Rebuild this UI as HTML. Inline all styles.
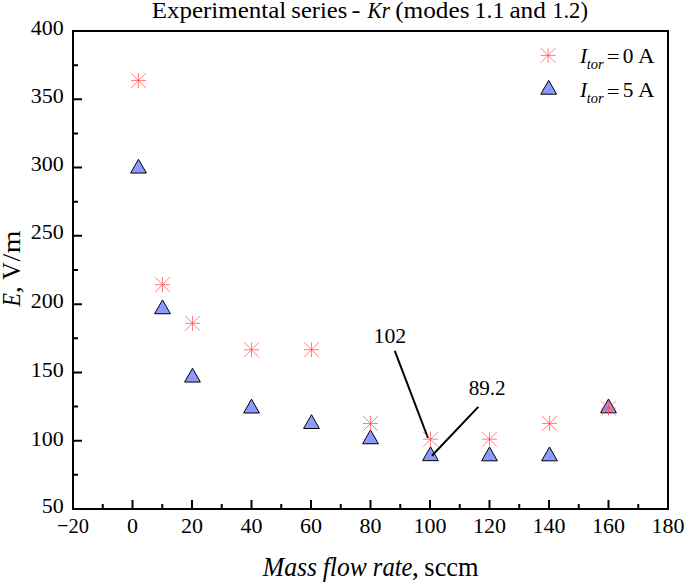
<!DOCTYPE html>
<html><head><meta charset="utf-8"><style>
html,body{margin:0;padding:0;background:#fff;width:685px;height:585px;overflow:hidden;}
svg{display:block;font-family:"Liberation Serif", serif;}
</style></head><body>
<svg width="685" height="585" viewBox="0 0 685 585">
<rect x="73" y="31" width="595" height="478" fill="none" stroke="#000" stroke-width="2"/>
<path d="M102.75 509V504M132.50 509V500M162.25 509V504M192.00 509V500M221.75 509V504M251.50 509V500M281.25 509V504M311.00 509V500M340.75 509V504M370.50 509V500M400.25 509V504M430.00 509V500M459.75 509V504M489.50 509V500M519.25 509V504M549.00 509V500M578.75 509V504M608.50 509V500M638.25 509V504M73 474.86H78M73 440.71H82M73 406.57H78M73 372.43H82M73 338.29H78M73 304.14H82M73 270.00H78M73 235.86H82M73 201.71H78M73 167.57H82M73 133.43H78M73 99.29H82M73 65.14H78" stroke="#000" stroke-width="2" fill="none"/>
<text transform="translate(73.00 533.4) scale(0.93 1)" text-anchor="middle" font-size="22">−20</text>
<text transform="translate(132.50 533.4) scale(1.0 1)" text-anchor="middle" font-size="22">0</text>
<text transform="translate(192.00 533.4) scale(1.0 1)" text-anchor="middle" font-size="22">20</text>
<text transform="translate(251.50 533.4) scale(1.0 1)" text-anchor="middle" font-size="22">40</text>
<text transform="translate(311.00 533.4) scale(1.0 1)" text-anchor="middle" font-size="22">60</text>
<text transform="translate(370.50 533.4) scale(1.0 1)" text-anchor="middle" font-size="22">80</text>
<text transform="translate(430.00 533.4) scale(1.0 1)" text-anchor="middle" font-size="22">100</text>
<text transform="translate(489.50 533.4) scale(1.0 1)" text-anchor="middle" font-size="22">120</text>
<text transform="translate(549.00 533.4) scale(1.0 1)" text-anchor="middle" font-size="22">140</text>
<text transform="translate(608.50 533.4) scale(1.0 1)" text-anchor="middle" font-size="22">160</text>
<text transform="translate(668.00 533.4) scale(1.0 1)" text-anchor="middle" font-size="22">180</text>
<text x="63.8" y="513.30" text-anchor="end" font-size="22">50</text>
<text x="63.8" y="445.70" text-anchor="end" font-size="22">100</text>
<text x="63.8" y="377.00" text-anchor="end" font-size="22">150</text>
<text x="63.8" y="308.30" text-anchor="end" font-size="22">200</text>
<text x="63.8" y="239.20" text-anchor="end" font-size="22">250</text>
<text x="63.8" y="171.40" text-anchor="end" font-size="22">300</text>
<text x="63.8" y="103.30" text-anchor="end" font-size="22">350</text>
<text x="63.8" y="34.60" text-anchor="end" font-size="22">400</text>
<text transform="translate(151.65 17.80) scale(1.0630 1)" font-size="23.5" >Experimental</text>
<text transform="translate(291.32 17.80) scale(1.0464 1)" font-size="23.5" >series</text>
<text transform="translate(351.42 17.80) scale(1.1457 1)" font-size="23.5" >-</text>
<text transform="translate(367.61 17.80) scale(0.9067 1)" font-size="23.5" font-style="italic">Kr</text>
<text transform="translate(395.19 17.80) scale(1.0749 1)" font-size="23.5" >(modes</text>
<text transform="translate(474.54 17.80) scale(1.0213 1)" font-size="23.5" >1.1</text>
<text transform="translate(509.39 17.80) scale(1.0745 1)" font-size="23.5" >and</text>
<text transform="translate(552.16 17.80) scale(0.9626 1)" font-size="23.5" >1.2)</text>
<text transform="translate(262.86 576.00) scale(0.9769 1)" font-size="26.3" font-style="italic">Mass</text>
<text transform="translate(322.74 576.00) scale(0.9752 1)" font-size="26.3" font-style="italic">flow</text>
<text transform="translate(372.82 576.00) scale(0.9346 1)" font-size="26.3" font-style="italic">rate</text>
<text transform="translate(411.85 576.00) scale(1.0900 1)" font-size="26.3" >,</text>
<text transform="translate(424.34 576.00) scale(1.0057 1)" font-size="26.3" >sccm</text>
<text transform="translate(20.00 306.48) rotate(-90) scale(0.8429 1)" font-size="26.1" font-style="italic">E</text>
<text transform="translate(20.00 293.15) rotate(-90) scale(1.0983 1)" font-size="26.1" >,</text>
<text transform="translate(20.00 279.64) rotate(-90) scale(0.9360 1)" font-size="26.1" >V</text>
<text transform="translate(20.00 261.50) rotate(-90) scale(1.0673 1)" font-size="26.1" >/</text>
<text transform="translate(20.00 253.28) rotate(-90) scale(1.1184 1)" font-size="26.1" >m</text>
<path d="M138.50 159.25L146.40 173.05H130.60Z" fill="#8c9aff" stroke="#000" stroke-width="1" stroke-linejoin="round"/>
<path d="M162.50 299.95L170.40 313.75H154.60Z" fill="#8c9aff" stroke="#000" stroke-width="1" stroke-linejoin="round"/>
<path d="M192.50 368.25L200.40 382.05H184.60Z" fill="#8c9aff" stroke="#000" stroke-width="1" stroke-linejoin="round"/>
<path d="M251.50 399.20L259.40 413.00H243.60Z" fill="#8c9aff" stroke="#000" stroke-width="1" stroke-linejoin="round"/>
<path d="M311.50 414.70L319.40 428.50H303.60Z" fill="#8c9aff" stroke="#000" stroke-width="1" stroke-linejoin="round"/>
<path d="M370.50 429.95L378.40 443.75H362.60Z" fill="#8c9aff" stroke="#000" stroke-width="1" stroke-linejoin="round"/>
<path d="M430.50 446.85L438.40 460.65H422.60Z" fill="#8c9aff" stroke="#000" stroke-width="1" stroke-linejoin="round"/>
<path d="M489.50 447.00L497.40 460.80H481.60Z" fill="#8c9aff" stroke="#000" stroke-width="1" stroke-linejoin="round"/>
<path d="M549.50 447.00L557.40 460.80H541.60Z" fill="#8c9aff" stroke="#000" stroke-width="1" stroke-linejoin="round"/>
<path d="M608.50 399.00L616.40 412.80H600.60Z" fill="#8c9aff" stroke="#000" stroke-width="1" stroke-linejoin="round"/>
<path d="M394.8 350.9L428.0 438.0M478.3 406.9L431.9 455.8" stroke="#000" stroke-width="2" fill="none"/>
<g stroke="#ff4848" stroke-width="1" fill="none" stroke-opacity="0.7"><path d="M131.00 80.60H146.00"/><path d="M138.50 73.10V88.10"/><path d="M131.00 73.10L146.00 88.10"/><path d="M131.00 88.10L146.00 73.10"/></g>
<g stroke="#ff4848" stroke-width="1" fill="none" stroke-opacity="0.7"><path d="M155.00 284.70H170.00"/><path d="M162.50 277.20V292.20"/><path d="M155.00 277.20L170.00 292.20"/><path d="M155.00 292.20L170.00 277.20"/></g>
<g stroke="#ff4848" stroke-width="1" fill="none" stroke-opacity="0.7"><path d="M185.00 323.30H200.00"/><path d="M192.50 315.80V330.80"/><path d="M185.00 315.80L200.00 330.80"/><path d="M185.00 330.80L200.00 315.80"/></g>
<g stroke="#ff4848" stroke-width="1" fill="none" stroke-opacity="0.7"><path d="M244.00 349.80H259.00"/><path d="M251.50 342.30V357.30"/><path d="M244.00 342.30L259.00 357.30"/><path d="M244.00 357.30L259.00 342.30"/></g>
<g stroke="#ff4848" stroke-width="1" fill="none" stroke-opacity="0.7"><path d="M304.00 349.70H319.00"/><path d="M311.50 342.20V357.20"/><path d="M304.00 342.20L319.00 357.20"/><path d="M304.00 357.20L319.00 342.20"/></g>
<g stroke="#ff4848" stroke-width="1" fill="none" stroke-opacity="0.7"><path d="M363.00 423.50H378.00"/><path d="M370.50 416.00V431.00"/><path d="M363.00 416.00L378.00 431.00"/><path d="M363.00 431.00L378.00 416.00"/></g>
<g stroke="#ff4848" stroke-width="1" fill="none" stroke-opacity="0.7"><path d="M423.00 439.20H438.00"/><path d="M430.50 431.70V446.70"/><path d="M423.00 431.70L438.00 446.70"/><path d="M423.00 446.70L438.00 431.70"/></g>
<g stroke="#ff4848" stroke-width="1" fill="none" stroke-opacity="0.7"><path d="M482.00 439.20H497.00"/><path d="M489.50 431.70V446.70"/><path d="M482.00 431.70L497.00 446.70"/><path d="M482.00 446.70L497.00 431.70"/></g>
<g stroke="#ff4848" stroke-width="1" fill="none" stroke-opacity="0.7"><path d="M542.00 423.40H557.00"/><path d="M549.50 415.90V430.90"/><path d="M542.00 415.90L557.00 430.90"/><path d="M542.00 430.90L557.00 415.90"/></g>
<g stroke="#ff4848" stroke-width="1" fill="none" stroke-opacity="0.7"><path d="M601.00 408.20H616.00"/><path d="M608.50 400.70V415.70"/><path d="M601.00 400.70L616.00 415.70"/><path d="M601.00 415.70L616.00 400.70"/></g>
<text transform="translate(373.53 342.80) scale(0.9933 1)" font-size="22">102</text>
<text transform="translate(468.65 395.20) scale(0.9614 1)" font-size="22">89.2</text>
<g stroke="#ff4848" stroke-width="1" fill="none" stroke-opacity="0.7"><path d="M540.60 55.40H555.60"/><path d="M548.10 47.90V62.90"/><path d="M540.60 47.90L555.60 62.90"/><path d="M540.60 62.90L555.60 47.90"/></g>
<path d="M548.70 80.40L556.60 94.20H540.80Z" fill="#8c9aff" stroke="#000" stroke-width="1" stroke-linejoin="round"/>
<text x="580" y="62.80" font-size="21.4" font-style="italic">I</text>
<text transform="translate(586.82 68.70) scale(0.9363 1)" font-size="15.5" font-style="italic">tor</text>
<text transform="translate(606.76 63.30) scale(1.07 0.9)" font-size="21.4">=</text>
<text x="622.74" y="62.80" font-size="21.4">0</text>
<text transform="translate(638.09 62.80) scale(1.07 1)" font-size="21.4">A</text>
<text x="580" y="97.00" font-size="21.4" font-style="italic">I</text>
<text transform="translate(586.82 102.90) scale(0.9363 1)" font-size="15.5" font-style="italic">tor</text>
<text transform="translate(606.76 97.50) scale(1.07 0.9)" font-size="21.4">=</text>
<text x="622.74" y="97.00" font-size="21.4">5</text>
<text transform="translate(638.09 97.00) scale(1.07 1)" font-size="21.4">A</text>
</svg>
</body></html>
